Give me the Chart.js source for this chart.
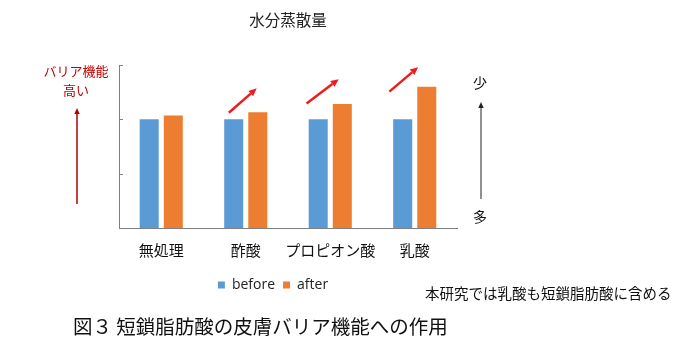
<!DOCTYPE html>
<html lang="ja">
<head>
<meta charset="utf-8">
<title>水分蒸散量</title>
<script src="https://cdn.jsdelivr.net/npm/chart.js@4/dist/chart.umd.min.js"></script>
<style>
  html, body { margin: 0; padding: 0; background: #fff; }
  #wrap { position: relative; width: 700px; height: 360px; }
</style>
</head>
<body>
<div id="wrap"><canvas id="chart" width="700" height="360"></canvas></div>
<script>
// data (y in grid units, no tick labels shown)
var categories = ['無処理', '酢酸', 'プロピオン酸', '乳酸'];
var beforeValues = [2.0, 2.0, 2.0, 2.0];
var afterValues = [2.07, 2.13, 2.28, 2.60];
var yTicks = [0, 1, 2, 3];
// red "increase" arrows: [category index, value] start / end
var arrowFrom = [[0.80, 2.12], [1.72, 2.29], [2.70, 2.51]];
var arrowTo = [[1.13, 2.57], [2.10, 2.74], [3.04, 2.96]];

var chartTitle = '水分蒸散量';
var leftNote = ['バリア機能', '高い'];
var rightTop = '少';
var rightBottom = '多';
var footNote = '本研究では乳酸も短鎖脂肪酸に含める';
var caption = '図３ 短鎖脂肪酸の皮膚バリア機能への作用';

var CJK = "'Noto Sans CJK JP', sans-serif";
var axisColor = '#7f7f7f';

function drawArrow(ctx, x1, y1, x2, y2, color, width, head) {
  var a = Math.atan2(y2 - y1, x2 - x1);
  var bx = x2 - head * Math.cos(a), by = y2 - head * Math.sin(a);
  var w = head * 0.45;
  ctx.strokeStyle = color;
  ctx.fillStyle = color;
  ctx.lineWidth = width;
  ctx.beginPath(); ctx.moveTo(x1, y1); ctx.lineTo(bx, by); ctx.stroke();
  ctx.beginPath();
  ctx.moveTo(x2, y2);
  ctx.lineTo(bx + w * Math.sin(a), by - w * Math.cos(a));
  ctx.lineTo(bx - w * Math.sin(a), by + w * Math.cos(a));
  ctx.closePath();
  ctx.fill();
}

var annotate = {
  id: 'annotate',
  afterLayout: function (chart) {
    // legend sits a bit left of the plot centre in the original
    var lg = chart.legend;
    if (lg) { lg.left -= 15; lg.right -= 15; lg.top -= 2; lg.bottom -= 2; }
  },
  afterDraw: function (chart) {
    var ctx = chart.ctx, xs = chart.scales.x, ys = chart.scales.y, area = chart.chartArea;
    ctx.save();

    // small inside tick marks on the y axis
    ctx.strokeStyle = axisColor;
    ctx.lineWidth = 1;
    yTicks.forEach(function (v) {
      var py = Math.round(ys.getPixelForValue(v)) + 0.5;
      ctx.beginPath(); ctx.moveTo(area.left, py); ctx.lineTo(area.left + 4, py); ctx.stroke();
    });

    arrowFrom.forEach(function (p, i) {
      drawArrow(ctx,
        xs.getPixelForValue(p[0]), ys.getPixelForValue(p[1]),
        xs.getPixelForValue(arrowTo[i][0]), ys.getPixelForValue(arrowTo[i][1]),
        '#ee1c1c', 2.5, 8);
    });

    ctx.textAlign = 'center';
    ctx.textBaseline = 'middle';

    // left: barrier function high
    ctx.fillStyle = '#c00000';
    ctx.font = '13px ' + CJK;
    ctx.fillText(leftNote[0], area.left - 43, area.top + 6);
    ctx.fillText(leftNote[1], area.left - 43, area.top + 25);
    drawArrow(ctx, area.left - 42, area.bottom - 24, area.left - 42, area.top + 43, '#b00000', 1.5, 6);

    // right: less / more
    ctx.fillStyle = '#111';
    ctx.font = '14px ' + CJK;
    ctx.fillText(rightTop, area.right + 23, area.top + 18);
    ctx.fillText(rightBottom, area.right + 23, area.bottom - 11);
    drawArrow(ctx, area.right + 24, area.bottom - 29, area.right + 24, area.top + 37, '#222', 1, 6);

    // footnote and figure caption
    ctx.textAlign = 'left';
    ctx.fillStyle = '#111';
    ctx.font = '14.5px ' + CJK;
    ctx.fillText(footNote, 425, 293);
    ctx.font = '19.5px ' + CJK;
    ctx.fillText(caption, 73, 327);

    ctx.restore();
  }
};

new Chart(document.getElementById('chart').getContext('2d'), {
  type: 'bar',
  data: {
    labels: categories,
    datasets: [
      { label: 'before', data: beforeValues, backgroundColor: '#5b9bd5', borderWidth: 0 },
      { label: 'after', data: afterValues, backgroundColor: '#ed7d31', borderWidth: 0 }
    ]
  },
  options: {
    responsive: false,
    animation: false,
    devicePixelRatio: 1,
    categoryPercentage: 0.57,
    barPercentage: 0.79,
    layout: { padding: { left: 119, right: 243, top: 0, bottom: 56 } },
    scales: {
      x: {
        grid: { display: false, drawTicks: false },
        border: { display: true, color: axisColor, width: 1 },
        ticks: {
          color: '#111', padding: 5.5, autoSkip: false, maxRotation: 0, minRotation: 0,
          font: { family: CJK, size: 15, lineHeight: 2.2 }
        }
      },
      y: {
        min: 0, max: 3,
        ticks: { display: false, stepSize: 1 },
        grid: { display: false, drawTicks: false },
        border: { display: true, color: axisColor, width: 1 }
      }
    },
    plugins: {
      title: {
        display: true,
        text: chartTitle,
        color: '#222',
        font: { family: CJK, size: 15.5, weight: 'normal', lineHeight: 1.2 },
        padding: { top: 11, bottom: 35.4 }
      },
      legend: {
        position: 'bottom',
        labels: {
          boxWidth: 7, boxHeight: 7, padding: 8, color: '#222',
          font: { family: "'Open Sans', 'Noto Sans CJK JP', sans-serif", size: 14 }
        }
      },
      tooltip: { enabled: false }
    }
  },
  plugins: [annotate]
});
</script>
</body>
</html>
